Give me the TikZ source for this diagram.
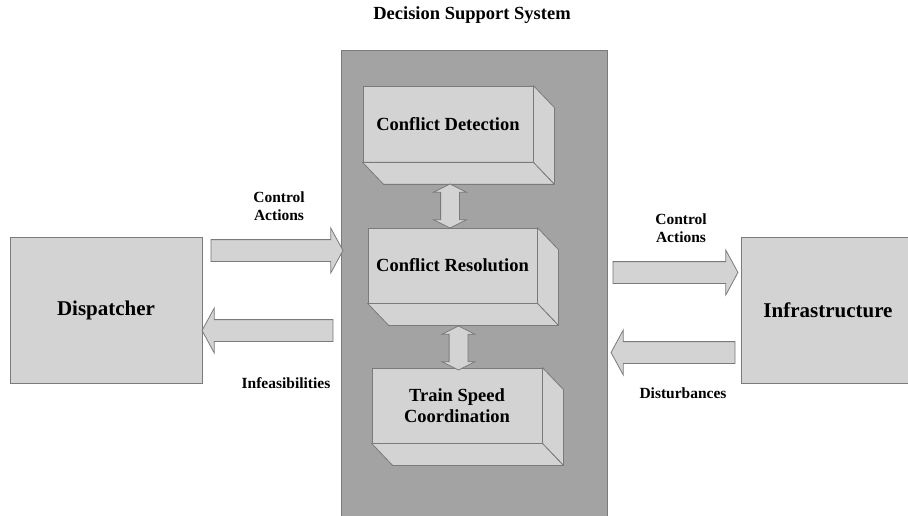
\documentclass[tikz,border=0pt]{standalone}
\usepackage{fontspec}
\setmainfont{Liberation Serif}
\usetikzlibrary{shapes.arrows, calc}

\definecolor{panelgray}{HTML}{A3A3A3}
\definecolor{boxgray}{HTML}{D3D3D3}
\definecolor{edgegray}{HTML}{7A7A7A}

\begin{document}
\begin{tikzpicture}[x=1pt, y=-1pt, font=\bfseries,
    panel/.style={draw=edgegray, fill=panelgray, line width=0.8pt, minimum width=266pt, minimum height=470pt},
    outer box/.style={draw=edgegray, fill=boxgray, line width=0.8pt, font=\fontsize{21}{24}\selectfont\bfseries},
    front/.style={draw=edgegray, fill=boxgray, line width=0.8pt, align=center, inner sep=0pt,
        minimum width=170pt, minimum height=76pt, font=\fontsize{18.5}{21}\selectfont\bfseries},
    face/.style={draw=edgegray, fill=boxgray, line width=0.8pt, line join=round},
    fat arrow/.style={single arrow, draw=edgegray, fill=boxgray, line width=0.8pt, inner xsep=0pt, inner ysep=10.5pt,
        single arrow head extend=11.5pt, single arrow tip angle=123, minimum height=#1},
    twin arrow/.style={double arrow, draw=edgegray, fill=boxgray, line width=0.8pt, inner xsep=0pt, inner ysep=9pt,
        double arrow head extend=7pt, double arrow tip angle=127, minimum height=44pt, rotate=90},
    flow label/.style={align=center, font=\fontsize{15.5}{18}\selectfont\bfseries}]

    \useasboundingbox (0,0) rectangle (908,516);

    % Title and panel
    \node (title) at (472,15) {\fontsize{18.5}{21}\selectfont Decision Support System};
    \node[panel] (dss) at (474.5,285) {};

    % Modules
    \node[front] (cd) at (448,124) {Conflict Detection};
    \node[front, minimum width=169pt, minimum height=75pt] (cr) at (452.5,265.5) {Conflict Resolution};
    \node[front, minimum height=75pt] (tsc) at (457,405.5) {Train Speed\\Coordination};

    % Depth of the modules
    \draw[face] (cd.north east) -- ++(21,22) -- ([shift={(21,22)}]cd.south east) -- (cd.south east) -- cycle;
    \draw[face] (cd.south west) -- ++(21,22) -- ([shift={(21,22)}]cd.south east) -- (cd.south east) -- cycle;
    \draw[face] (cr.north east) -- ++(21,22) -- ([shift={(21,22)}]cr.south east) -- (cr.south east) -- cycle;
    \draw[face] (cr.south west) -- ++(21,22) -- ([shift={(21,22)}]cr.south east) -- (cr.south east) -- cycle;
    \draw[face] (tsc.north east) -- ++(21,22) -- ([shift={(21,22)}]tsc.south east) -- (tsc.south east) -- cycle;
    \draw[face] (tsc.south west) -- ++(21,22) -- ([shift={(21,22)}]tsc.south east) -- (tsc.south east) -- cycle;

    % Links between modules
    \node[twin arrow] (cdcr) at (450,206) {};
    \node[twin arrow] (crtsc) at (458.5,348) {};

    % Outside actors
    \node[outer box, minimum width=192pt, minimum height=146pt] (disp) at (106,310) {Dispatcher};
    \node[outer box, minimum width=174pt, minimum height=146pt] (infra) at (828,310) {Infrastructure};

    % Flows
    \node[fat arrow=132pt] (dispout) at (274,250.5) {};
    \node[fat arrow=131pt, shape border rotate=180] (dispin) at (270.5,330.5) {};
    \node[fat arrow=125pt] (infraout) at (672.5,272.5) {};
    \node[fat arrow=124pt, shape border rotate=180] (infrain) at (676,352.5) {};

    % Flow labels
    \node[flow label] (ca1) at (279,206) {Control\\Actions};
    \node[flow label] (infeas) at (286,383) {Infeasibilities};
    \node[flow label] (ca2) at (681,228) {Control\\Actions};
    \node[flow label] (dist) at (683,393) {Disturbances};

\end{tikzpicture}
\end{document}
